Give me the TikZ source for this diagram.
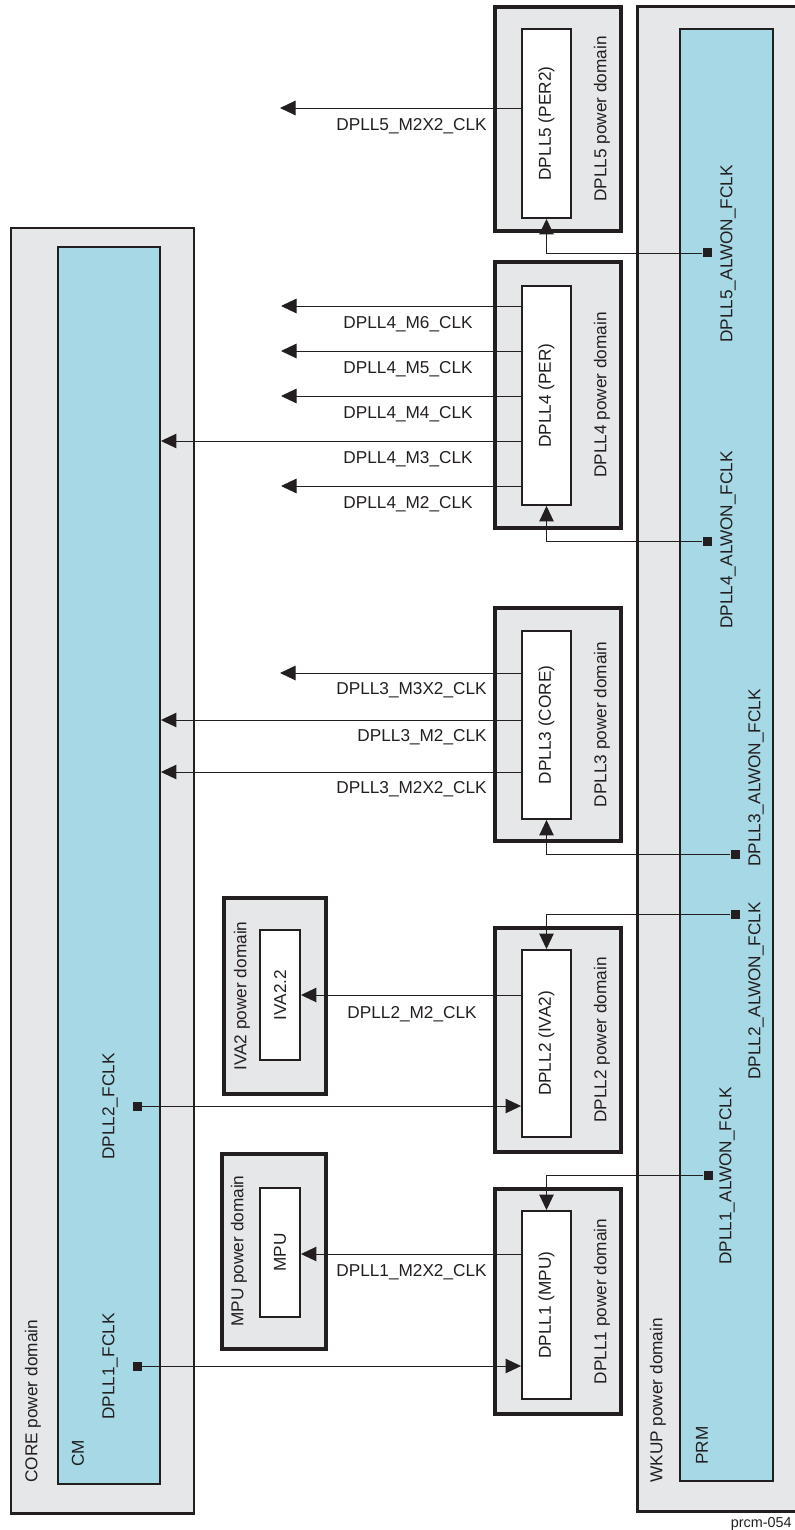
\documentclass[tikz,border=0pt]{standalone}
\usepackage{fontspec}
\setmainfont{Liberation Sans}
\usetikzlibrary{positioning,arrows.meta,fit}
\definecolor{pdgrey}{RGB}{230,231,232}
\definecolor{ctrlblue}{RGB}{167,216,230}
\definecolor{ink}{RGB}{35,31,32}

\begin{document}
\begin{tikzpicture}[
    x=0.02cm, y=-0.02cm, >={Triangle[length=3.1mm, width=2.9mm]},
    font=\fontsize{9.8}{11}\selectfont,
    pdbox/.style={draw=ink, fill=pdgrey, line width=1.9pt, inner sep=0pt},
    ctrl/.style={draw=ink, fill=ctrlblue, line width=1.1pt, inner sep=0pt},
    dpll/.style={draw=ink, fill=white, line width=1.1pt, inner sep=0pt},
    vtext/.style={rotate=90, inner sep=0pt, text=ink},
    vstart/.style={vtext, anchor=west},
    clklbl/.style={anchor=east, inner sep=0pt, text=ink},
    clk/.style={->, line width=0.55pt, draw=ink},
    src/.style={fill=ink, minimum size=1.8mm, inner sep=0pt}
]
\useasboundingbox (0,0) rectangle (794,1530);

\node[pdbox, line width=1.7pt, fit={(11,228) (194,1513)}] (corepd) {};
\node[ctrl, fit={(58,247) (160,1484)}] (cm) {};
\node[pdbox, line width=1.7pt, fit={(637,7) (800,1511)}] (wkuppd) {};
\node[ctrl, fit={(680,29) (773,1481)}] (prm) {};

\node[vstart] (corelbl) at (33,1483) {CORE power domain};
\node[vstart] (cmlbl) at (78,1467) {CM};
\node[vstart] (f1lbl) at (110,1420) {DPLL1\_FCLK};
\node[vstart] (f2lbl) at (110,1160) {DPLL2\_FCLK};
\node[vstart] (wkuplbl) at (658,1483) {WKUP power domain};
\node[vstart] (prmlbl) at (702,1465) {PRM};

\foreach \n/\t/\b/\ti/\bi/\blk in {5/7/231/29/218/PER2, 4/262/528/286/505/PER,
    3/608/841/631/819/CORE, 2/928/1152/950/1137/IVA2, 1/1189/1414/1211/1399/MPU}{
  \node[pdbox, fit={(495,\t) (621,\b)}] (pd\n) {};
  \node[dpll, fit={(522,\ti) (571,\bi)}] (dpll\n) {};
  \node[vtext] (t\n) at (dpll\n) {DPLL\n\ (\blk)};
  \node[vtext] (pdt\n) at (602,{(\t+\b)/2}) {DPLL\n\ power domain};
}

\node[pdbox, fit={(224,898) (326,1094)}] (ivapd) {};
\node[dpll, fit={(260,930) (300,1060)}] (iva) {};
\node[vtext] (ivat) at (iva) {IVA2.2};
\node[vtext] (ivapdt) at (242,996) {IVA2 power domain};
\node[pdbox, fit={(222,1154) (326,1349)}] (mpupd) {};
\node[dpll, fit={(260,1188) (300,1317)}] (mpu) {};
\node[vtext] (mput) at (mpu) {MPU};
\node[vtext] (mpupdt) at (239,1251) {MPU power domain};

\foreach \n/\x/\y in {5/728/343,4/728/629,3/756/867,2/756/1080,1/727/1265}
  \node[vstart] (a\n lbl) at (\x,\y) {DPLL\n\_ALWON\_FCLK};

\foreach \n/\x/\y in {5/707/253,4/707/541,3/735/854,2/735/914,1/708/1175}
  \node[src] (s\n) at (\x,\y) {};
\foreach \n/\side in {5/south,4/south,3/south,2/north,1/north}
  \draw[clk] (s\n) -| (dpll\n.\side);

\node[src] (sf1) at (137,1366) {};
\node[src] (sf2) at (137,1106) {};
\draw[clk] (sf1) -- (sf1 -| dpll1.west);
\draw[clk] (sf2) -- (sf2 -| dpll2.west);

\coordinate (e5) at (280,108);
\draw[clk] (dpll5.west |- e5) -- (e5);
\node[clklbl] (l5) at (487,126) {DPLL5\_M2X2\_CLK};

\foreach \m/\y in {M6/306,M5/351,M4/396,M2/486}{
  \coordinate (e4\m) at (281,\y);
  \draw[clk] (dpll4.west |- e4\m) -- (e4\m);
}
\draw[clk] (dpll4.west |- 0,441) -- (cm.east |- 0,441);
\foreach \m/\y in {M6/306,M5/351,M4/396,M3/441,M2/486}
  \node[clklbl] (l4\m) at (473,\y+18) {DPLL4\_\m\_CLK};

\coordinate (e3) at (280,673);
\draw[clk] (dpll3.west |- e3) -- (e3);
\draw[clk] (dpll3.west |- 0,720) -- (cm.east |- 0,720);
\draw[clk] (dpll3.west |- 0,772) -- (cm.east |- 0,772);
\node[clklbl] (l3a) at (487,690) {DPLL3\_M3X2\_CLK};
\node[clklbl] (l3b) at (487,737) {DPLL3\_M2\_CLK};
\node[clklbl] (l3c) at (487,789) {DPLL3\_M2X2\_CLK};

\draw[clk] (dpll2.west |- 0,995) -- (iva.east |- 0,995);
\node[clklbl] (l2) at (477,1014) {DPLL2\_M2\_CLK};
\draw[clk] (dpll1.west |- 0,1254) -- (mpu.east |- 0,1254);
\node[clklbl] (l1) at (487,1272) {DPLL1\_M2X2\_CLK};

\node[anchor=east, inner sep=0pt, text=ink, font=\fontsize{8.2}{9}\selectfont]
  (figid) at (792,1524) {prcm-054};
\end{tikzpicture}
\end{document}
